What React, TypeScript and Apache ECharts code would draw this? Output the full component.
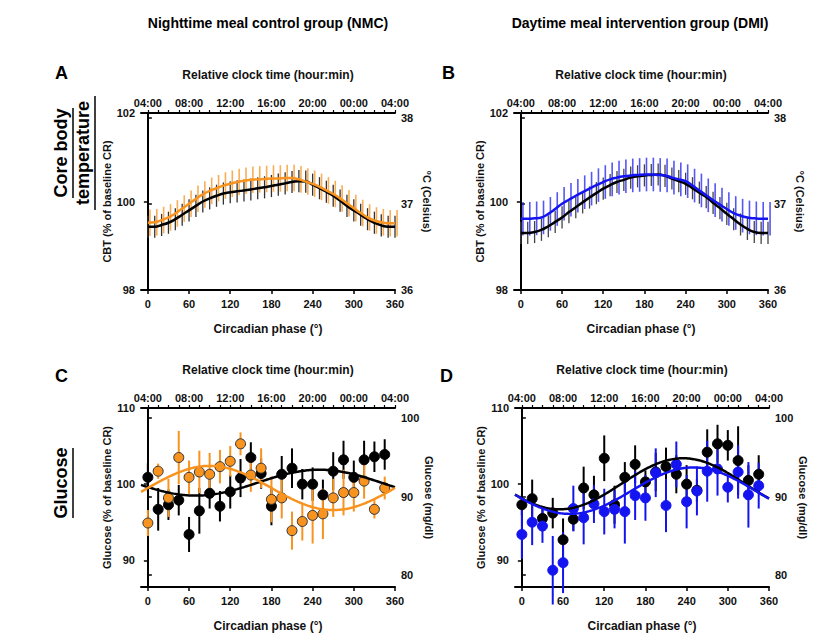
import React, { useEffect, useRef } from 'react';
import * as echarts from 'echarts';

// glucose sample phases (hourly = 15 deg)
const gluPhase = [0, 15, 30, 45, 60, 75, 90, 105, 120, 135, 150, 165, 180, 195, 210, 225, 240, 255, 270, 285, 300, 315, 330, 345];
const cNmcBlack = [100.9, 96.7, 97.3, 97.9, 93.4, 96.5, 98.8, 97.1, 99.0, 100.8, 103.5, 101.4, 97.1, 101.3, 102.1, 100.0, 100.0, 98.6, 101.7, 103.2, 100.9, 103.2, 103.6, 103.9];
const cNmcBlackErr = [1.9, 2.8, 2.0, 2.0, 2.3, 3.0, 2.0, 2.0, 2.2, 2.5, 2.0, 2.0, 2.5, 2.4, 2.6, 2.0, 2.2, 2.0, 2.5, 2.5, 2.2, 2.5, 2.0, 2.0];
const cNmcOrange = [94.9, 101.7, 98.2, 103.5, 100.9, 101.6, 101.3, 102.3, 103.0, 105.3, 101.2, 102.1, 98.0, 98.2, 93.9, 95.1, 95.9, 96.1, 98.2, 98.9, 98.9, 100.4, 96.7, 99.5];
const cNmcOrangeErr = [1.7, 1.0, 2.5, 3.5, 2.2, 2.8, 2.8, 2.2, 2.0, 1.5, 2.2, 2.6, 3.0, 2.7, 2.5, 2.5, 3.7, 3.3, 2.5, 3.0, 2.5, 2.3, 1.2, 1.5];
const dDmiBlack = [97.3, 98.1, 95.5, 96.2, 92.7, 95.4, 99.5, 98.6, 103.4, 97.3, 100.9, 102.6, 100.3, 101.6, 102.3, 101.3, 100.0, 99.2, 104.2, 105.3, 105.1, 103.1, 100.5, 101.3];
const dDmiBlackErr = [1.4, 2.5, 1.5, 2.0, 2.8, 1.5, 2.8, 2.5, 3.0, 2.5, 2.0, 2.5, 1.5, 2.5, 2.5, 2.5, 2.5, 1.5, 3.0, 2.5, 2.0, 4.5, 2.0, 2.5];
const dDmiBlue = [93.4, 95.0, 94.5, 88.7, 89.7, 96.8, 95.6, 97.4, 96.4, 96.7, 96.4, 98.5, 98.2, 101.5, 97.2, 102.6, 97.7, 99.1, 101.7, 102.0, 99.6, 101.6, 98.6, 99.8];
const dDmiBlueErr = [3.2, 3.0, 2.2, 4.5, 4.0, 3.0, 3.5, 2.5, 3.0, 2.5, 4.2, 3.2, 3.0, 3.2, 3.5, 3.0, 3.5, 3.2, 4.0, 3.5, 2.0, 3.5, 4.3, 3.0];

// cosinor fit parameters [mesor, amplitude, acrophase deg]
const fitCBlack = [100.2, 1.7, 250];
const fitCOrange = [99.5, 2.9, 90];
const fitDBlack = [100.05, 3.35, 235];
const fitDBlue = [99.15, 3.05, 250];

// CBT profiles every 10 deg
const cbtPhase = [0, 10, 20, 30, 40, 50, 60, 70, 80, 90, 100, 110, 120, 130, 140, 150, 160, 170, 180, 190, 200, 210, 220, 230, 240, 250, 260, 270, 280, 290, 300, 310, 320, 330, 340, 350, 360];
const aBlack = [99.43, 99.43, 99.47, 99.52, 99.6, 99.7, 99.8, 99.9, 100.0, 100.07, 100.13, 100.18, 100.21, 100.23, 100.25, 100.27, 100.3, 100.32, 100.35, 100.38, 100.41, 100.44, 100.46, 100.45, 100.38, 100.3, 100.22, 100.13, 100.02, 99.9, 99.8, 99.7, 99.6, 99.52, 99.46, 99.43, 99.43];
const aOrange = [99.52, 99.53, 99.58, 99.64, 99.73, 99.84, 99.95, 100.06, 100.16, 100.24, 100.3, 100.36, 100.4, 100.44, 100.47, 100.49, 100.5, 100.51, 100.52, 100.52, 100.53, 100.53, 100.5, 100.45, 100.4, 100.33, 100.25, 100.17, 100.07, 99.96, 99.85, 99.74, 99.64, 99.57, 99.53, 99.51, 99.51];
const bBlack = [99.29, 99.29, 99.31, 99.36, 99.44, 99.54, 99.64, 99.76, 99.87, 99.98, 100.09, 100.19, 100.29, 100.37, 100.44, 100.49, 100.54, 100.57, 100.59, 100.6, 100.61, 100.58, 100.52, 100.46, 100.4, 100.3, 100.2, 100.1, 99.97, 99.85, 99.72, 99.6, 99.48, 99.38, 99.31, 99.29, 99.29];
const bBlue = [99.61, 99.61, 99.62, 99.64, 99.72, 99.83, 99.95, 100.04, 100.13, 100.21, 100.29, 100.37, 100.44, 100.5, 100.54, 100.57, 100.59, 100.6, 100.61, 100.61, 100.6, 100.59, 100.54, 100.5, 100.46, 100.36, 100.25, 100.14, 100.03, 99.93, 99.83, 99.74, 99.68, 99.64, 99.62, 99.61, 99.61];
const aBlackErr = 0.25;
const aOrangeErr = 0.3;
const bBlackErr = 0.25;
const bBlueErr = 0.38;

const clockTicks = [0, 60, 120, 180, 240, 300, 360];
const clockLabels = ['04:00', '08:00', '12:00', '16:00', '20:00', '00:00', '04:00'];
const hourTicks = Array.from({ length: 25 }, (_, i) => i * 15);

const ORANGE = '#F7931E';
const BLUE = '#1414F0';
const FONT = 'Liberation Sans, Arial, sans-serif';

const cosCurve = (p: number[]) => {
  const pts: number[][] = [];
  for (let x = -10; x <= 360; x += 2) pts.push([x, p[0] + p[1] * Math.cos(((x - p[2]) * Math.PI) / 180)]);
  return pts;
};

const errSeries = (xi: number, yi: number, xs: number[], ys: number[], err: number[] | number, color: string, width: number, z: number) => ({
  type: 'custom',
  xAxisIndex: xi,
  yAxisIndex: yi,
  z,
  silent: true,
  data: xs.map((x, i) => [x, ys[i] - (Array.isArray(err) ? err[i] : err), ys[i] + (Array.isArray(err) ? err[i] : err)]),
  renderItem: (_p: any, api: any) => {
    const a = api.coord([api.value(0), api.value(1)]);
    const b = api.coord([api.value(0), api.value(2)]);
    return { type: 'line', shape: { x1: a[0], y1: a[1], x2: b[0], y2: b[1] }, style: { stroke: color, lineWidth: width } };
  },
});

const App = () => {
  const ref = useRef<HTMLDivElement>(null);

  useEffect(() => {
    if (!ref.current) return;
    const chart = echarts.init(ref.current, null, { renderer: 'svg' });

    const tickFont = { fontFamily: FONT, fontSize: 11, fontWeight: 'bold' as const, color: '#111' };
    const nameFont = { fontFamily: FONT, fontSize: 12, fontWeight: 'bold' as const, color: '#111' };
    const line = { lineStyle: { color: '#000', width: 2 } };

    // positions are relative to the chart div (page offset 8px)
    const panels = [
      { left: 133, top: 105, height: 177, yMin: 98, yMax: 102, yTicks: [98, 100, 102], rMin: 36, rMax: 38.06, rTicks: [36, 37, 38], lName: 'CBT (% of baseline CR)', rName: '°C (Celsius)' },
      { left: 506, top: 105, height: 177, yMin: 98, yMax: 102, yTicks: [98, 100, 102], rMin: 36, rMax: 38.06, rTicks: [36, 37, 38], lName: 'CBT (% of baseline CR)', rName: '°C (Celsius)' },
      { left: 133, top: 400, height: 182, yMin: 86.5, yMax: 110, yTicks: [90, 100, 110], rMin: 78.5, rMax: 101.3, rTicks: [80, 90, 100], lName: 'Glucose (% of baseline CR)', rName: 'Glucose (mg/dl)' },
      { left: 507, top: 400, height: 182, yMin: 86.5, yMax: 110, yTicks: [90, 100, 110], rMin: 78.5, rMax: 101.3, rTicks: [80, 90, 100], lName: 'Glucose (% of baseline CR)', rName: 'Glucose (mg/dl)' },
    ];

    const grid: any[] = [];
    const xAxis: any[] = [];
    const yAxis: any[] = [];
    panels.forEach((p, i) => {
      grid.push({ left: p.left, top: p.top, width: 254, height: p.height });
      xAxis.push({
        type: 'value', gridIndex: i, min: -10, max: 360, position: 'bottom',
        name: 'Circadian phase (°)', nameLocation: 'middle', nameGap: 33, nameTextStyle: nameFont,
        axisLine: line, axisTick: { customValues: clockTicks, length: 4, lineStyle: { color: '#000', width: 1.5 } },
        axisLabel: { ...tickFont, customValues: clockTicks, margin: 8 }, splitLine: { show: false },
      });
      xAxis.push({
        type: 'value', gridIndex: i, min: -10, max: 360, position: 'top',
        name: 'Relative clock time (hour:min)', nameLocation: 'middle', nameGap: 32, nameTextStyle: nameFont,
        axisLine: line, axisTick: { customValues: hourTicks, length: 3, lineStyle: { color: '#000', width: 1.2 } },
        axisLabel: { ...tickFont, customValues: clockTicks, margin: 5, formatter: (v: number) => clockLabels[clockTicks.indexOf(v)] ?? '' },
        splitLine: { show: false },
      });
      yAxis.push({
        type: 'value', gridIndex: i, min: p.yMin, max: p.yMax, position: 'left',
        name: p.lName, nameLocation: 'middle', nameGap: 28, nameTextStyle: { ...nameFont, fontSize: 11 },
        axisLine: line, axisTick: { customValues: p.yTicks, length: 4, lineStyle: { color: '#000', width: 1.5 } },
        axisLabel: { ...tickFont, customValues: p.yTicks, margin: 6 }, splitLine: { show: false },
      });
      yAxis.push({
        type: 'value', gridIndex: i, min: p.rMin, max: p.rMax, position: 'right',
        name: p.rName, nameLocation: 'middle', nameGap: 26, nameRotate: -90, nameTextStyle: { ...nameFont, fontSize: 11 },
        axisLine: line, axisTick: { customValues: p.rTicks, length: 4, lineStyle: { color: '#000', width: 1.5 } },
        axisLabel: { ...tickFont, customValues: p.rTicks, margin: 6 }, splitLine: { show: false },
      });
    });

    const lineS = (gi: number, data: number[][], color: string, z: number, smooth = false) => ({
      type: 'line', xAxisIndex: gi * 2, yAxisIndex: gi * 2, data, showSymbol: false, smooth, z,
      lineStyle: { color, width: 2.5 }, silent: true,
    });
    const dots = (gi: number, ys: number[], color: string, border: string, z: number) => ({
      type: 'scatter', xAxisIndex: gi * 2, yAxisIndex: gi * 2, z, symbolSize: 10,
      data: gluPhase.map((x, i) => [x, ys[i]]),
      itemStyle: { color, borderColor: border, borderWidth: 1, opacity: 1 },
    });
    const zip = (xs: number[], ys: number[]) => xs.map((x, i) => [x, ys[i]]);

    const series: any[] = [
      // A
      errSeries(0, 0, cbtPhase, aBlack, aBlackErr, '#333', 1.3, 2),
      errSeries(0, 0, cbtPhase.map((x) => x + 3), aOrange, aOrangeErr, 'rgba(247,147,30,0.75)', 1.6, 3),
      lineS(0, zip(cbtPhase, aBlack), '#000', 5, true),
      lineS(0, zip(cbtPhase, aOrange), ORANGE, 6, true),
      // B
      errSeries(2, 2, cbtPhase, bBlack, bBlackErr, '#444', 1.3, 2),
      errSeries(2, 2, cbtPhase.map((x) => x + 3), bBlue, bBlueErr, 'rgba(30,30,240,0.75)', 1.6, 3),
      lineS(1, zip(cbtPhase, bBlack), '#000', 5, true),
      lineS(1, zip(cbtPhase, bBlue), BLUE, 6, true),
      // C
      errSeries(4, 4, gluPhase, cNmcBlack, cNmcBlackErr, '#000', 2, 2),
      errSeries(4, 4, gluPhase, cNmcOrange, cNmcOrangeErr, ORANGE, 2, 3),
      dots(2, cNmcBlack, '#000', '#000', 4),
      dots(2, cNmcOrange, ORANGE, '#333', 5),
      lineS(2, cosCurve(fitCBlack), '#000', 6),
      lineS(2, cosCurve(fitCOrange), ORANGE, 7),
      // D
      errSeries(6, 6, gluPhase, dDmiBlack, dDmiBlackErr, '#000', 2, 2),
      errSeries(6, 6, gluPhase, dDmiBlue, dDmiBlueErr, BLUE, 2, 3),
      dots(3, dDmiBlack, '#000', '#000', 4),
      dots(3, dDmiBlue, BLUE, BLUE, 5),
      lineS(3, cosCurve(fitDBlack), '#000', 6),
      lineS(3, cosCurve(fitDBlue), BLUE, 7),
    ];

    const hdr = { fontFamily: FONT, fontWeight: 'bold', fill: '#000' };
    const row = { ...hdr, fontSize: 18, textAlign: 'center', textVerticalAlign: 'top' };
    const graphic: any[] = [
      { type: 'text', x: 260, y: 8, style: { ...hdr, text: 'Nighttime meal control group (NMC)', fontSize: 14, textAlign: 'center' } },
      { type: 'text', x: 632, y: 8, style: { ...hdr, text: 'Daytime meal intervention group (DMI)', fontSize: 14, textAlign: 'center' } },
      { type: 'text', x: 47, y: 56, style: { ...hdr, text: 'A', fontSize: 18 } },
      { type: 'text', x: 434, y: 56, style: { ...hdr, text: 'B', fontSize: 18 } },
      { type: 'text', x: 47, y: 359, style: { ...hdr, text: 'C', fontSize: 18 } },
      { type: 'text', x: 432, y: 359, style: { ...hdr, text: 'D', fontSize: 18 } },
      { type: 'text', x: 44, y: 145, rotation: Math.PI / 2, style: { ...row, text: 'Core body' } },
      { type: 'text', x: 66, y: 145, rotation: Math.PI / 2, style: { ...row, text: 'temperature' } },
      { type: 'line', shape: { x1: 65, y1: 100, x2: 65, y2: 190 }, style: { stroke: '#000', lineWidth: 1.5 } },
      { type: 'line', shape: { x1: 87, y1: 88, x2: 87, y2: 202 }, style: { stroke: '#000', lineWidth: 1.5 } },
      { type: 'text', x: 44, y: 475, rotation: Math.PI / 2, style: { ...row, text: 'Glucose' } },
      { type: 'line', shape: { x1: 65, y1: 440, x2: 65, y2: 510 }, style: { stroke: '#000', lineWidth: 1.5 } },
    ];

    chart.setOption({ animation: false, grid, xAxis, yAxis, series, graphic });
    return () => chart.dispose();
  }, []);

  return <div ref={ref} style={{ width: 814, height: 625 }} />;
};

export default App;
